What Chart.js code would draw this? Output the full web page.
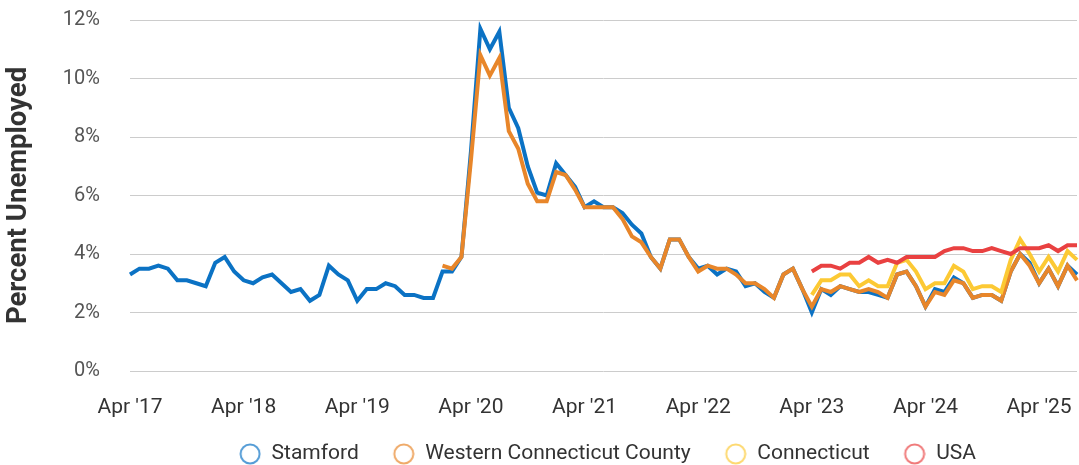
<!DOCTYPE html>
<html lang="en">
<head>
    <meta charset="UTF-8">
    <title>Percent Unemployed</title>
    <script src="https://cdn.jsdelivr.net/npm/chart.js@4"></script>
    <style>
        html, body { margin: 0; padding: 0; background: #fff; }
        .chart-container { position: relative; width: 1079px; height: 465px; }
    </style>
</head>
<body>
    <div class="chart-container">
        <canvas id="unempChart"></canvas>
    </div>

    <script>
        // months Apr 2017 .. Aug 2025
        const monthNames = ['Jan', 'Feb', 'Mar', 'Apr', 'May', 'Jun', 'Jul', 'Aug', 'Sep', 'Oct', 'Nov', 'Dec'];
        const months = [];
        for (let y = 2017; y <= 2025; y++) {
            for (let m = 0; m < 12; m++) {
                if (y === 2017 && m < 3) continue;
                if (y === 2025 && m > 7) continue;
                months.push(monthNames[m] + " '" + String(y).slice(2));
            }
        }

        const yTicks = [0, 2, 4, 6, 8, 10, 12];

        const stamford = [
            3.3, 3.5, 3.5, 3.6, 3.5, 3.1, 3.1, 3.0, 2.9, 3.7, 3.9, 3.4,
            3.1, 3.0, 3.2, 3.3, 3.0, 2.7, 2.8, 2.4, 2.6, 3.6, 3.3, 3.1,
            2.4, 2.8, 2.8, 3.0, 2.9, 2.6, 2.6, 2.5, 2.5, 3.4, 3.4, 3.9,
            7.5, 11.7, 11.0, 11.6, 9.0, 8.3, 7.0, 6.1, 6.0, 7.1, 6.7, 6.3,
            5.6, 5.8, 5.6, 5.6, 5.4, 5.0, 4.7, 3.9, 3.5, 4.5, 4.5, 3.9,
            3.5, 3.6, 3.3, 3.5, 3.4, 2.9, 3.0, 2.7, 2.5, 3.3, 3.5, 2.8,
            2.0, 2.8, 2.6, 2.9, 2.8, 2.7, 2.7, 2.6, 2.5, 3.3, 3.4, 2.9,
            2.2, 2.8, 2.7, 3.2, 3.0, 2.5, 2.6, 2.6, 2.4, 3.4, 4.0, 3.7,
            3.0, 3.5, 2.9, 3.6, 3.3
        ];

        const westernCT = [
            null, null, null, null, null, null, null, null, null, null, null, null,
            null, null, null, null, null, null, null, null, null, null, null, null,
            null, null, null, null, null, null, null, null, null, 3.6, 3.5, 3.9,
            7.2, 10.8, 10.1, 10.7, 8.2, 7.6, 6.4, 5.8, 5.8, 6.8, 6.7, 6.2,
            5.6, 5.6, 5.6, 5.6, 5.2, 4.6, 4.4, 3.9, 3.5, 4.5, 4.5, 3.9,
            3.4, 3.6, 3.5, 3.5, 3.3, 3.0, 3.0, 2.8, 2.5, 3.3, 3.5, 2.8,
            2.2, 2.8, 2.7, 2.9, 2.8, 2.7, 2.8, 2.7, 2.5, 3.3, 3.4, 2.9,
            2.2, 2.7, 2.6, 3.1, 3.0, 2.5, 2.6, 2.6, 2.4, 3.4, 4.0, 3.6,
            3.0, 3.5, 2.9, 3.6, 3.1
        ];

        // Connecticut and USA start Apr '23
        const connecticut = [
            2.6, 3.1, 3.1, 3.3, 3.3, 2.9, 3.1, 2.9, 2.9, 3.7, 3.8, 3.4,
            2.8, 3.0, 3.0, 3.6, 3.4, 2.8, 2.9, 2.9, 2.7, 3.8, 4.5, 4.0,
            3.4, 3.9, 3.4, 4.1, 3.8
        ];

        const usa = [
            3.4, 3.6, 3.6, 3.5, 3.7, 3.7, 3.9, 3.7, 3.8, 3.7, 3.9, 3.9,
            3.9, 3.9, 4.1, 4.2, 4.2, 4.1, 4.1, 4.2, 4.1, 4.0, 4.2, 4.2,
            4.2, 4.3, 4.1, 4.3, 4.3
        ];

        const lateStart = months.length - connecticut.length;
        const pad = n => new Array(n).fill(null);

        const seriesStyle = [
            { label: 'Stamford', color: '#0b72c4', legend: 'rgba(11,114,196,0.7)', data: stamford, order: 4 },
            { label: 'Western Connecticut County', color: '#e8862a', legend: 'rgba(232,134,42,0.7)', data: westernCT, order: 3 },
            { label: 'Connecticut', color: '#fcc934', legend: 'rgba(252,201,52,0.7)', data: pad(lateStart).concat(connecticut), order: 2 },
            { label: 'USA', color: '#e94141', legend: 'rgba(233,65,65,0.7)', data: pad(lateStart).concat(usa), order: 1 }
        ];

        // legend marker: hollow ring sitting at the right end of a wider box
        const markerBox = 30;
        function ringIcon(color) {
            const c = document.createElement('canvas');
            c.width = markerBox;
            c.height = 22;
            const g = c.getContext('2d');
            g.strokeStyle = color;
            g.lineWidth = 2;
            g.beginPath();
            g.arc(markerBox - 11, 11, 9.5, 0, Math.PI * 2);
            g.stroke();
            return c;
        }

        const ctx = document.getElementById('unempChart').getContext('2d');
        new Chart(ctx, {
            type: 'line',
            data: {
                labels: months,
                datasets: seriesStyle.map(s => ({
                    label: s.label,
                    data: s.data,
                    borderColor: s.color,
                    backgroundColor: '#ffffff',
                    borderWidth: 4,
                    pointRadius: 0,
                    tension: 0,
                    fill: false,
                    order: s.order,
                    legendColor: s.legend
                }))
            },
            options: {
                responsive: true,
                maintainAspectRatio: false,
                animation: false,
                layout: { padding: { top: 0, right: 2, left: 0, bottom: -9.5 } },
                plugins: {
                    tooltip: { enabled: false },
                    legend: {
                        position: 'bottom',
                        fullSize: false,
                        labels: {
                            usePointStyle: true,
                            pointStyleWidth: markerBox,
                            padding: 26,
                            color: '#333333',
                            font: { family: 'Roboto', size: 21 },
                            sort: (a, b) => a.datasetIndex - b.datasetIndex,
                            generateLabels: chart => {
                                const items = Chart.defaults.plugins.legend.labels.generateLabels(chart);
                                items.forEach(it => {
                                    it.pointStyle = ringIcon(chart.data.datasets[it.datasetIndex].legendColor);
                                });
                                return items;
                            }
                        }
                    }
                },
                scales: {
                    x: {
                        offset: false,
                        grid: { display: false, drawTicks: false },
                        border: { display: false },
                        afterFit: scale => {
                            scale.height = 46.5;
                            scale.paddingLeft = 0;
                            scale.paddingRight = 0;
                        },
                        ticks: {
                            autoSkip: false,
                            maxRotation: 0,
                            color: '#333333',
                            padding: 24,
                            font: { family: 'Roboto', size: 21 },
                            callback: (val, idx) => idx % 12 === 0 ? months[idx] : null
                        }
                    },
                    y: {
                        min: 0,
                        max: 12,
                        border: { display: false },
                        grid: { color: '#cccccc', lineWidth: 1, drawTicks: false },
                        afterFit: scale => {
                            scale.width = 130;
                            scale.paddingTop = 20;
                            scale.paddingBottom = 0;
                        },
                        ticks: {
                            stepSize: 2,
                            padding: 30,
                            color: '#555555',
                            font: { family: 'Roboto', size: 20 },
                            callback: v => yTicks.includes(v) ? v + '%' : null
                        },
                        title: {
                            display: true,
                            text: 'Percent Unemployed',
                            color: '#333333',
                            padding: { top: 3, bottom: 28 },
                            font: { family: 'Roboto', size: 27.5, weight: 'bold' }
                        }
                    }
                }
            }
        });
    </script>
</body>
</html>
